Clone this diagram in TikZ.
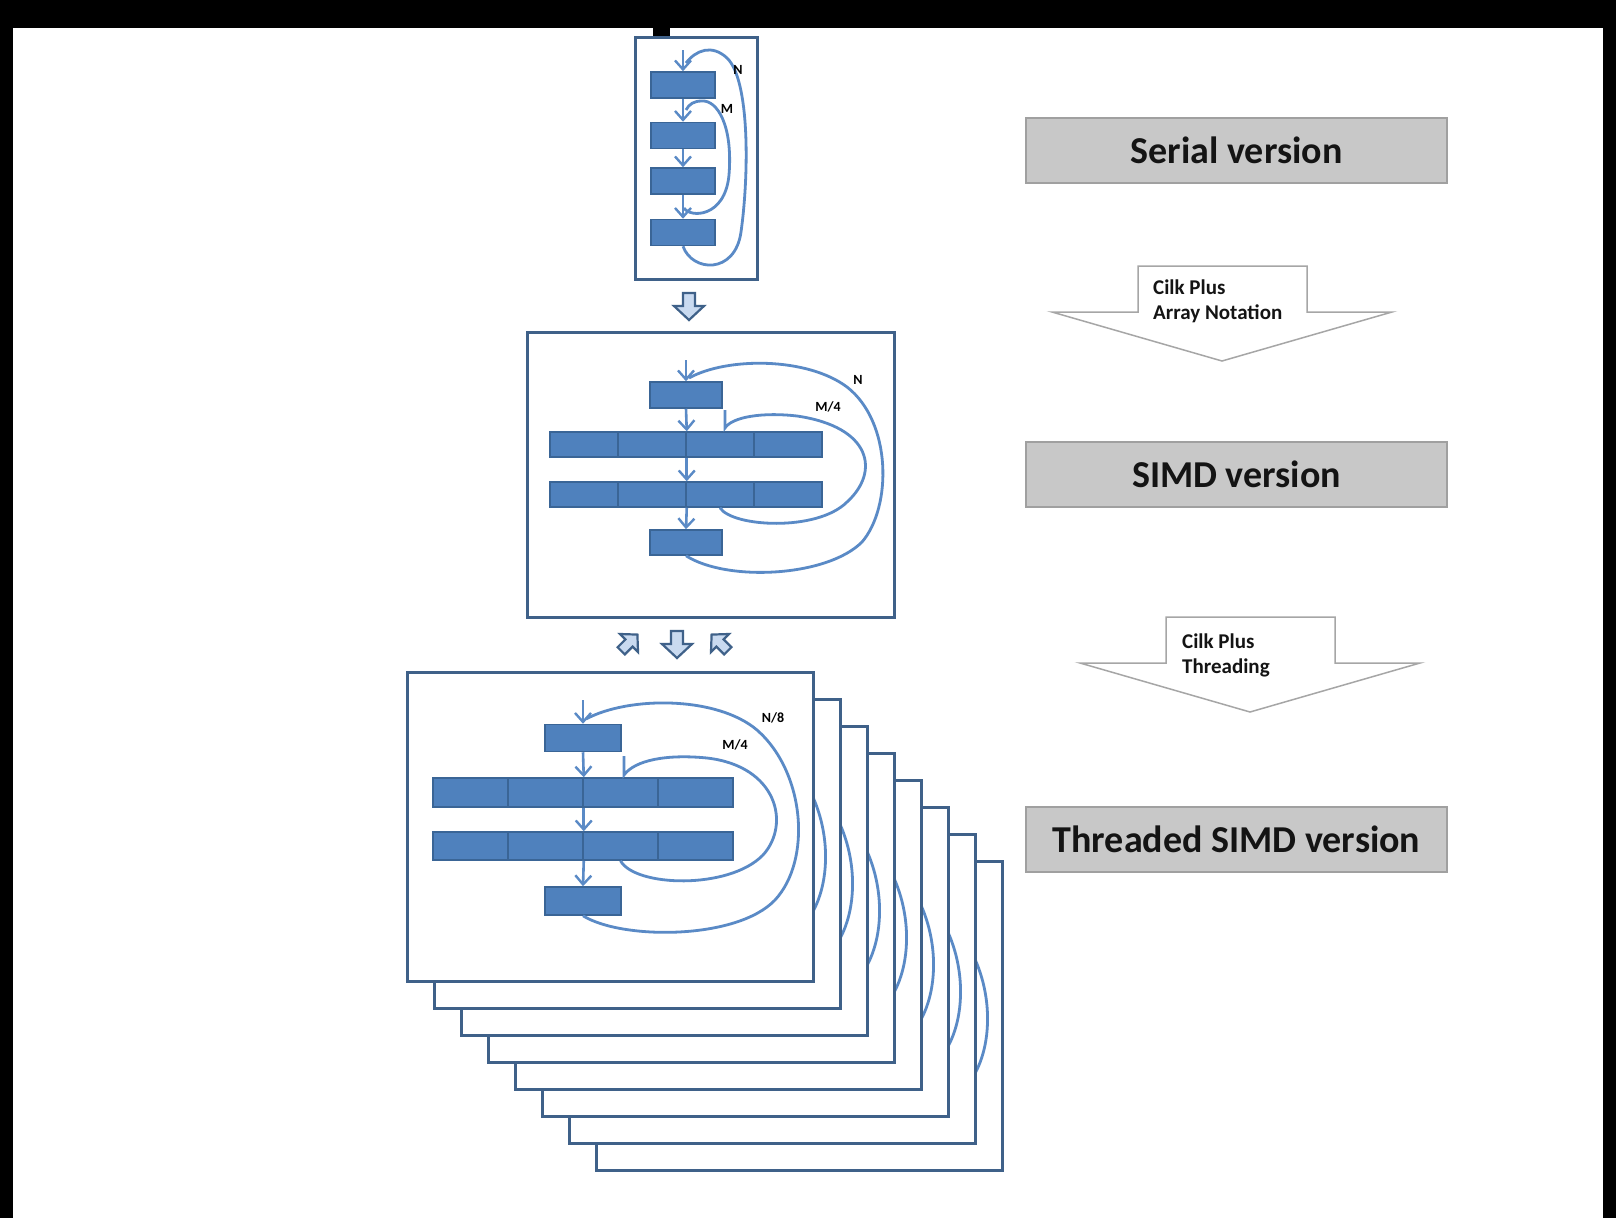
\documentclass[tikz,border=0pt]{standalone}
\usepackage{fontspec}
\setmainfont{Carlito}
\usetikzlibrary{arrows.meta}
\definecolor{frameblue}{HTML}{3F6189}
\definecolor{blockblue}{HTML}{4F81BD}
\definecolor{blockedge}{HTML}{3A6596}
\definecolor{loopblue}{HTML}{5A8AC6}
\definecolor{paleblue}{HTML}{C9DAF0}
\definecolor{labelgray}{HTML}{C8C8C8}
\definecolor{labeledge}{HTML}{A0A0A0}
\definecolor{arrowgray}{HTML}{A6A6A6}
\definecolor{textdark}{HTML}{141414}
\tikzset{
  panel/.style={draw=frameblue, line width=3pt, fill=white},
  blk/.style={draw=blockedge, line width=1.5pt, fill=blockblue, inner sep=0pt, minimum width=#1, minimum height=26pt},
  flow/.style={draw=loopblue, line width=2.6pt, -{Straight Barb[length=9pt,width=16pt,line width=2.4pt]}},
  backedge/.style={draw=loopblue, line width=2.8pt},
  looptag/.style={font=\fontsize{14}{14}\selectfont\bfseries, inner sep=0pt, text=black},
  versionbox/.style={draw=labeledge, line width=2pt, fill=labelgray, minimum width=421pt, minimum height=65pt, font=\fontsize{38}{44}\selectfont\bfseries, text=textdark},
  armtext/.style={align=left, inner sep=0pt, font=\fontsize{21}{25}\selectfont\bfseries, text=textdark},
  fatarrow/.pic={\draw[draw=frameblue, line width=2.2pt, fill=paleblue] (-6,-13) -- (6,-13) -- (6,0) -- (15,0) -- (0,14) -- (-15,0) -- (-6,0) -- cycle;},
  bigarrow/.pic={\draw[draw=arrowgray, line width=1.5pt, fill=white] (-84,0) -- (85,0) -- (85,46) -- (170,46) -- (0,95) -- (-170,46) -- (-84,46) -- cycle;}
}
\begin{document}
\begin{tikzpicture}[x=1pt,y=-1pt]
\useasboundingbox (0,0) rectangle (1616,1218);
\fill[white] (0,0) rectangle (1616,1218);
\fill[black] (0,0) rectangle (1616,28);
\fill[black] (0,0) rectangle (13,1218);
\fill[black] (1603,0) rectangle (1616,1218);
\fill[black] (653,28) rectangle (670,37);

\draw[panel] (635,37) rectangle (757,279);
\foreach \y [count=\k] in {85,135.5,181,232.5}
  \node[blk=64pt] (s\k) at (683,\y) {};
\coordinate (s-in) at (683,50);
\coordinate (s-hook) at (684,208);
\draw[flow] (s-in) -- (s1.north);
\draw[flow] (s1.south) -- (s2.north);
\draw[flow] (s2.south) -- (s3.north);
\draw[flow] (s3.south) -- (s4.north);
\draw[backedge] (s4.south) .. controls (692,272) and (735,275) .. (741,232) .. controls (749,175) and (750,80) .. (727,58) .. controls (712,44) and (696,50) .. (686,63);
\draw[backedge] (s-hook) .. controls (690,218) and (725,218) .. (729,175) .. controls (733,125) and (717,100) .. (702,101) .. controls (694,101) and (689,104) .. (686,110);
\node[looptag] (s-n) at (738,70) {N};
\node[looptag] (s-m) at (727,109) {M};

\pic at (689,306) {fatarrow};

\draw[panel] (527,332) rectangle (894,617);
\node[blk=72pt] (mtop) at (686,395) {};
\foreach \c [count=\k] in {584,652,720,788} {
  \node[blk=68pt, minimum height=25pt] (mA-\k) at (\c,444.5) {};
  \node[blk=68pt, minimum height=25pt] (mB-\k) at (\c,494.5) {};
}
\node[blk=72pt, minimum height=25pt] (mbot) at (686,542.5) {};
\coordinate (m-in) at (686,360);
\coordinate (m-hook) at (725,410);
\draw[flow] (m-in) -- (mtop.north);
\draw[flow] (mtop.south) -- (mA-2.north east);
\draw[flow] (mA-2.south east) -- (mB-2.north east);
\draw[flow] (mB-2.south east) -- (mbot.north);
\draw[backedge] (mbot.south) .. controls (727,582) and (827,577) .. (862,542) .. controls (892,507) and (892,422) .. (847,387) .. controls (807,357) and (727,357) .. (689,378);
\draw[backedge] (mB-3.south) .. controls (732,527) and (817,532) .. (847,502) .. controls (880,472) and (872,427) .. (797,416) .. controls (762,412) and (732,417) .. (725,428) -- (m-hook);
\node[looptag] (m-n) at (858,380) {N};
\node[looptag] (m-m) at (828,407) {M/4};

\pic[rotate=135, scale=0.85] at (629,643) {fatarrow};
\pic at (677,644) {fatarrow};
\pic[rotate=-135, scale=0.85] at (720,643) {fatarrow};

\foreach \i in {7,6,...,0} {
  \begin{scope}[shift={({407+27*\i},{672+27*\i})}]
    \draw[panel] (0,0) rectangle (406,309);
    \node[blk=76pt, minimum height=27pt] (t\i-top) at (176,66) {};
    \foreach \c [count=\k] in {63.5,138.5,213.5,288.5} {
      \node[blk=75pt, minimum height=29pt] (t\i-A-\k) at (\c,120.5) {};
      \node[blk=75pt, minimum height=28pt] (t\i-B-\k) at (\c,174) {};
    }
    \node[blk=76pt, minimum height=28pt] (t\i-bot) at (176,229) {};
    \coordinate (t\i-in) at (176,28);
    \coordinate (t\i-hook) at (217,84);
    \draw[flow] (t\i-in) -- (t\i-top.north);
    \draw[flow] (t\i-top.south) -- (t\i-A-2.north east);
    \draw[flow] (t\i-A-2.south east) -- (t\i-B-2.north east);
    \draw[flow] (t\i-B-2.south east) -- (t\i-bot.north);
    \draw[backedge] (t\i-bot.south) .. controls (215,268) and (330,268) .. (368,228) .. controls (405,188) and (398,100) .. (350,58) .. controls (310,24) and (222,24) .. (179,47);
    \draw[backedge] (t\i-B-3.south) .. controls (228,215) and (322,218) .. (356,183) .. controls (384,152) and (370,94) .. (300,86) .. controls (260,82) and (228,88) .. (217,103) -- (t\i-hook);
    \node[looptag] (t\i-n) at (366,46) {N/8};
    \node[looptag] (t\i-m) at (328,73) {M/4};
  \end{scope}
}

\node[versionbox] (serial) at (1236.5,150.5) {Serial version};
\node[versionbox] (simd) at (1236.5,474.5) {SIMD version};
\node[versionbox] (threaded) at (1236.5,839) {Threaded SIMD version};

\pic at (1222,266) {bigarrow};
\pic at (1250,617) {bigarrow};
\node[armtext, anchor=north west] (cilkA) at (1153,280) {Cilk Plus\\Array Notation};
\node[armtext, anchor=north west] (cilkB) at (1182,634) {Cilk Plus\\Threading};
\end{tikzpicture}
\end{document}
